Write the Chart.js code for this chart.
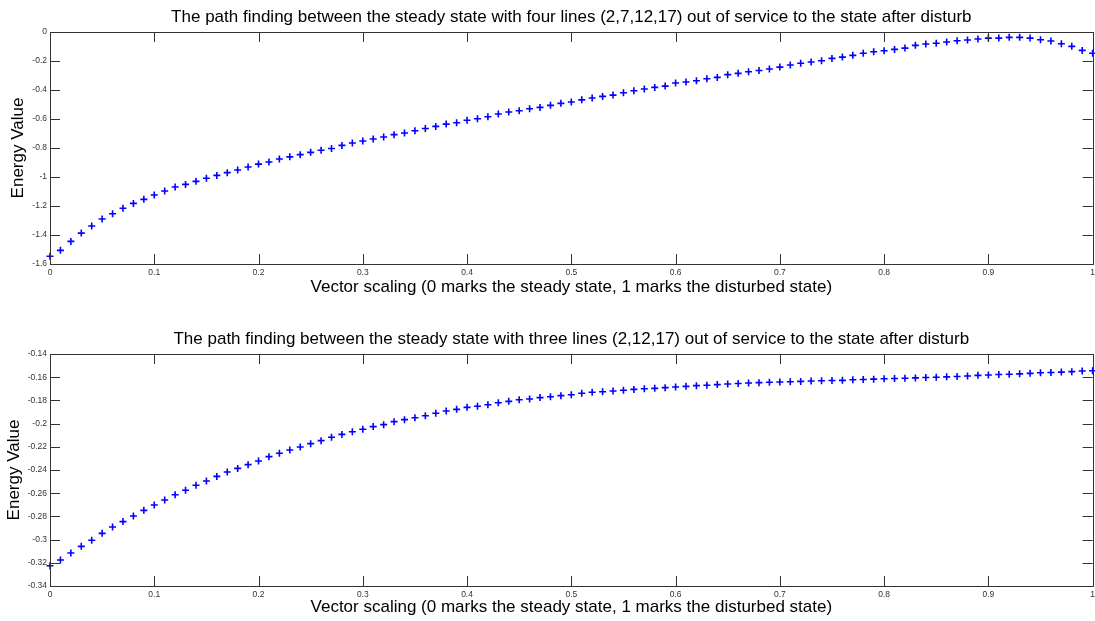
<!DOCTYPE html>
<html lang="en">
<head>
    <meta charset="UTF-8">
    <title>Energy path finding</title>
    <script src="https://cdn.jsdelivr.net/npm/chart.js"></script>
    <style>
        html, body { margin: 0; padding: 0; background: #fff; }
        body { width: 1095px; height: 621px; position: relative; overflow: hidden; }
        canvas { position: absolute; left: 0; }
        #top-chart { top: 0; }
        #bottom-chart { top: 310px; }
    </style>
</head>
<body>
    <!-- canvases are a few px wider than the page so the last tick label can sit on the edge -->
    <canvas id="top-chart" width="1099" height="310"></canvas>
    <canvas id="bottom-chart" width="1099" height="311"></canvas>

    <script>
        // Vector scaling samples (0 = steady state, 1 = disturbed state)
        const scaling = [
            0, 0.01, 0.02, 0.03, 0.04, 0.05, 0.06, 0.07, 0.08, 0.09,
            0.1, 0.11, 0.12, 0.13, 0.14, 0.15, 0.16, 0.17, 0.18, 0.19,
            0.2, 0.21, 0.22, 0.23, 0.24, 0.25, 0.26, 0.27, 0.28, 0.29,
            0.3, 0.31, 0.32, 0.33, 0.34, 0.35, 0.36, 0.37, 0.38, 0.39,
            0.4, 0.41, 0.42, 0.43, 0.44, 0.45, 0.46, 0.47, 0.48, 0.49,
            0.5, 0.51, 0.52, 0.53, 0.54, 0.55, 0.56, 0.57, 0.58, 0.59,
            0.6, 0.61, 0.62, 0.63, 0.64, 0.65, 0.66, 0.67, 0.68, 0.69,
            0.7, 0.71, 0.72, 0.73, 0.74, 0.75, 0.76, 0.77, 0.78, 0.79,
            0.8, 0.81, 0.82, 0.83, 0.84, 0.85, 0.86, 0.87, 0.88, 0.89,
            0.9, 0.91, 0.92, 0.93, 0.94, 0.95, 0.96, 0.97, 0.98, 0.99,
            1
        ];

        // Four lines (2,7,12,17) out of service
        const energyFourLines = [
            -1.547, -1.506, -1.444, -1.387, -1.338, -1.290, -1.253, -1.216, -1.182, -1.154,
            -1.124, -1.097, -1.069, -1.051, -1.030, -1.009, -0.989, -0.970, -0.952, -0.931,
            -0.911, -0.897, -0.876, -0.861, -0.846, -0.830, -0.816, -0.803, -0.782, -0.766,
            -0.752, -0.738, -0.724, -0.708, -0.697, -0.681, -0.665, -0.651, -0.635, -0.626,
            -0.609, -0.598, -0.584, -0.566, -0.552, -0.543, -0.529, -0.520, -0.506, -0.492,
            -0.483, -0.468, -0.455, -0.444, -0.435, -0.419, -0.405, -0.393, -0.382, -0.373,
            -0.352, -0.345, -0.336, -0.322, -0.313, -0.294, -0.285, -0.274, -0.265, -0.255,
            -0.242, -0.228, -0.216, -0.207, -0.198, -0.182, -0.173, -0.161, -0.147, -0.136,
            -0.129, -0.120, -0.111, -0.092, -0.083, -0.078, -0.069, -0.060, -0.055, -0.048,
            -0.042, -0.042, -0.037, -0.037, -0.042, -0.053, -0.062, -0.081, -0.099, -0.127,
            -0.147
        ];

        // Three lines (2,12,17) out of service
        const energyThreeLines = [
            -0.3225, -0.3176, -0.3116, -0.3058, -0.3006, -0.2946, -0.2891, -0.2845, -0.2797, -0.2748,
            -0.2702, -0.2659, -0.2613, -0.2575, -0.2532, -0.2495, -0.2455, -0.2417, -0.2386, -0.2354,
            -0.2322, -0.2285, -0.2256, -0.2228, -0.2202, -0.2173, -0.2147, -0.2118, -0.2093, -0.2070,
            -0.2049, -0.2026, -0.2009, -0.1983, -0.1966, -0.1949, -0.1932, -0.1911, -0.1891, -0.1877,
            -0.1860, -0.1851, -0.1837, -0.1820, -0.1808, -0.1794, -0.1788, -0.1776, -0.1768, -0.1759,
            -0.1751, -0.1739, -0.1730, -0.1725, -0.1719, -0.1713, -0.1705, -0.1699, -0.1696, -0.1690,
            -0.1684, -0.1679, -0.1673, -0.1670, -0.1664, -0.1658, -0.1654, -0.1650, -0.1647, -0.1644,
            -0.1641, -0.1639, -0.1636, -0.1633, -0.1630, -0.1629, -0.1627, -0.1622, -0.1620, -0.1617,
            -0.1614, -0.1611, -0.1609, -0.1606, -0.1603, -0.1600, -0.1597, -0.1594, -0.1590, -0.1584,
            -0.1581, -0.1577, -0.1574, -0.1571, -0.1567, -0.1562, -0.1559, -0.1556, -0.1552, -0.1547,
            -0.1544
        ];

        const xTicks = { min: 0, max: 1, step: 0.1 };
        const yTicksTop = { min: -1.6, max: 0, step: 0.2 };
        const yTicksBottom = { min: -0.34, max: -0.14, step: 0.02 };

        const topTitle = 'The path finding between the steady state with four lines (2,7,12,17) out of service to the state after disturb';
        const bottomTitle = 'The path finding between the steady state with three lines (2,12,17) out of service to the state after disturb';
        const xTitle = 'Vector scaling (0 marks the steady state, 1 marks the disturbed state)';
        const yTitle = 'Energy Value';

        const FONT = "'Liberation Sans', Arial, sans-serif";
        const AXIS_COLOR = '#333333';

        // MATLAB-like box with inward ticks on all four sides
        const boxPlugin = {
            id: 'matlabBox',
            afterDraw(chart) {
                const { ctx, chartArea: { left, right, top, bottom } } = chart;
                const xs = chart.scales.x;
                const ys = chart.scales.y;
                const len = 10;
                ctx.save();
                ctx.strokeStyle = AXIS_COLOR;
                ctx.lineWidth = 1;
                ctx.beginPath();
                xs.ticks.forEach(t => {
                    const px = Math.round(xs.getPixelForValue(t.value)) + 0.5;
                    ctx.moveTo(px, bottom);
                    ctx.lineTo(px, bottom - len);
                    ctx.moveTo(px, top);
                    ctx.lineTo(px, top + len);
                });
                ys.ticks.forEach(t => {
                    const py = Math.round(ys.getPixelForValue(t.value)) + 0.5;
                    ctx.moveTo(left, py);
                    ctx.lineTo(left + len, py);
                    ctx.moveTo(right, py);
                    ctx.lineTo(right - len, py);
                });
                ctx.stroke();
                ctx.strokeRect(Math.round(left) + 0.5, Math.round(top) + 0.5,
                    Math.round(right - left), Math.round(bottom - top));
                ctx.restore();
            }
        };

        const fmt = v => parseFloat(Number(v).toFixed(2)).toString();

        function makeChart(canvasId, title, values, yRange, opts) {
            const points = scaling.map((x, i) => ({ x: x, y: values[i] }));
            return new Chart(document.getElementById(canvasId), {
                type: 'scatter',
                data: {
                    datasets: [{
                        data: points,
                        pointStyle: 'cross',
                        pointRadius: 3.5,
                        pointBorderWidth: 1.6,
                        borderColor: '#0000ff',
                        backgroundColor: '#0000ff',
                        clip: false
                    }]
                },
                options: {
                    responsive: false,
                    animation: false,
                    events: [],
                    layout: { padding: 0 },
                    plugins: {
                        legend: { display: false },
                        tooltip: { enabled: false },
                        title: {
                            display: true,
                            fullSize: false,
                            text: title,
                            color: '#000',
                            font: { family: FONT, size: 17, weight: 'normal', lineHeight: 1.2 },
                            padding: { top: opts.titleTop, bottom: opts.titleBottom }
                        }
                    },
                    scales: {
                        x: {
                            type: 'linear',
                            min: xTicks.min,
                            max: xTicks.max,
                            grid: { display: false, drawTicks: false },
                            border: { display: false },
                            ticks: {
                                stepSize: xTicks.step,
                                maxRotation: 0,
                                autoSkip: false,
                                padding: 4,
                                color: AXIS_COLOR,
                                font: { family: FONT, size: 8.5 },
                                callback: fmt
                            },
                            title: {
                                display: true,
                                text: xTitle,
                                color: '#000',
                                font: { family: FONT, size: 17, lineHeight: 1.2 },
                                padding: { top: 0, bottom: opts.xTitleBottom }
                            },
                            afterFit: s => { s.height = opts.xHeight; }
                        },
                        y: {
                            min: yRange.min,
                            max: yRange.max,
                            grid: { display: false, drawTicks: false },
                            border: { display: false },
                            ticks: {
                                stepSize: yRange.step,
                                padding: 3,
                                color: AXIS_COLOR,
                                font: { family: FONT, size: 8.5 },
                                callback: fmt
                            },
                            title: {
                                display: true,
                                text: yTitle,
                                color: '#000',
                                font: { family: FONT, size: 17, lineHeight: 1.2 },
                                padding: { top: opts.yTitleTop, bottom: 0 }
                            },
                            afterFit: s => { s.width = 50; }
                        }
                    }
                },
                plugins: [boxPlugin]
            });
        }

        makeChart('top-chart', topTitle, energyFourLines, yTicksTop,
            { titleTop: 7, titleBottom: 4.6, xHeight: 46, xTitleBottom: 12.8, yTitleTop: 8.3 });
        makeChart('bottom-chart', bottomTitle, energyThreeLines, yTicksBottom,
            { titleTop: 18.8, titleBottom: 4.8, xHeight: 35, xTitleBottom: 3.8, yTitleTop: 3.8 });
    </script>
</body>
</html>
